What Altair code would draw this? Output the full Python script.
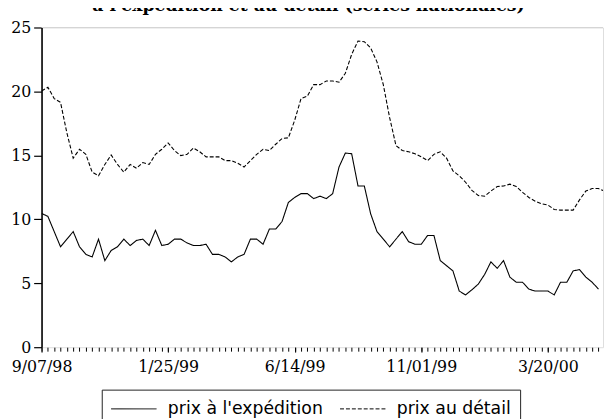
import altair as alt
import pandas as pd

start_date = "1998-09-07"
domain_end = "2000-05-20"

prix_expedition = [
    10.46, 10.23, 9.04, 7.85, 8.45, 9.04, 7.85, 7.26, 7.06, 8.45,
    6.77, 7.56, 7.85, 8.45, 7.95, 8.35, 8.45, 7.95, 9.14, 7.95,
    8.05, 8.45, 8.45, 8.15, 7.95, 7.95, 8.05, 7.26, 7.26, 7.06,
    6.67, 7.06, 7.26, 8.45, 8.45, 8.05, 9.24, 9.24, 9.83, 11.32,
    11.71, 12.01, 12.01, 11.62, 11.81, 11.62, 12.01, 14.09, 15.18, 15.13,
    12.61, 12.61, 10.43, 9.04, 8.45, 7.85, 8.45, 9.04, 8.25, 8.05,
    8.05, 8.74, 8.74, 6.77, 6.37, 5.97, 4.39, 4.09, 4.49, 4.93,
    5.68, 6.67, 6.17, 6.77, 5.48, 5.08, 5.08, 4.54, 4.39, 4.39,
    4.39, 4.09, 5.08, 5.08, 5.97, 6.07, 5.48, 5.08, 4.54,
]

prix_detail = [
    20.03, 20.33, 19.44, 19.14, 16.76, 14.78, 15.48, 15.08, 13.69, 13.40,
    14.29, 15.03, 14.29, 13.69, 14.29, 13.99, 14.44, 14.29, 15.08, 15.48,
    15.97, 15.38, 14.98, 15.08, 15.58, 15.28, 14.88, 14.88, 14.88, 14.59,
    14.59, 14.39, 14.09, 14.59, 15.08, 15.48, 15.38, 15.87, 16.32, 16.37,
    17.75, 19.44, 19.63, 20.53, 20.53, 20.82, 20.82, 20.72, 21.42, 22.90,
    23.94, 23.89, 23.40, 22.31, 20.53, 17.95, 15.77, 15.38, 15.28, 15.13,
    14.88, 14.59, 15.08, 15.28, 14.78, 13.79, 13.40, 12.90, 12.26, 11.86,
    11.81, 12.21, 12.56, 12.61, 12.75, 12.56, 12.11, 11.71, 11.42, 11.22,
    11.12, 10.77, 10.72, 10.72, 10.72, 11.52, 12.21, 12.41, 12.41, 12.20,
]

label_dates = ["1998-09-07", "1999-01-25", "1999-06-14", "1999-11-01", "2000-03-20"]
y_ticks = [0, 5, 10, 15, 20, 25]
series_names = ["prix à l'expédition", "prix au détail"]
title_text = "à l'expédition et au détail (séries nationales)"

weeks_e = pd.date_range(start_date, periods=len(prix_expedition), freq="7D")
weeks_d = pd.date_range(start_date, periods=len(prix_detail), freq="7D")
df = pd.concat([
    pd.DataFrame({"date": weeks_e, "prix": prix_expedition, "serie": series_names[0]}),
    pd.DataFrame({"date": weeks_d, "prix": prix_detail, "serie": series_names[1]}),
], ignore_index=True)

all_weeks = pd.date_range(start_date, domain_end, freq="7D")
df_weeks = pd.DataFrame({"date": all_weeks})


def dt(s):
    t = pd.Timestamp(s)
    return alt.DateTime(year=t.year, month=t.month, date=t.day)


x_scale = alt.Scale(domain=[dt(start_date), dt(domain_end)])
y_scale = alt.Scale(domain=[0, 25], nice=False, zero=False)

SERIF = "DejaVu Serif"

y_axis = alt.Axis(
    values=y_ticks, title=None, grid=False, domain=True, domainColor="black",
    domainWidth=1.6, ticks=True, tickColor="black", tickWidth=1.2, tickSize=8,
    labelFont=SERIF, labelFontSize=16, labelColor="black", labelPadding=3,
    labelFlush=False, labelOverlap=False,
)

x_axis_labels = alt.Axis(
    orient="bottom",
    values=[dt(d) for d in label_dates], format="%-m/%d/%y", title=None,
    grid=False, domain=False, ticks=True, tickColor="black", tickWidth=1,
    tickSize=5, labelFont=SERIF, labelFontSize=16, labelColor="black",
    labelPadding=7, labelFlush=False, labelOverlap=False,
)

x_axis_minor = alt.Axis(
    orient="bottom",
    values=[dt(d) for d in all_weeks], title=None, grid=False, domain=False,
    labels=False, ticks=True, tickColor="black", tickWidth=1, tickSize=4,
)

top_rule = alt.Chart(pd.DataFrame({"y": [25]})).mark_rule(
    color="#d4d4d4", strokeWidth=1
).encode(y=alt.Y("y:Q", scale=y_scale, axis=y_axis))

minor_ticks = alt.Chart(df_weeks).mark_point(opacity=0).encode(
    x=alt.X("date:T", scale=x_scale, axis=x_axis_minor)
)

lines = alt.Chart(df).mark_line(clip=True, strokeWidth=1.1, color="black").encode(
    x=alt.X("date:T", scale=x_scale, axis=x_axis_labels),
    y=alt.Y("prix:Q", scale=y_scale, axis=y_axis),
    strokeDash=alt.StrokeDash(
        "serie:N",
        scale=alt.Scale(domain=series_names, range=[[1, 0], [4, 2]]),
        legend=alt.Legend(
            title=None, orient="none", legendX=61, legendY=367,
            direction="horizontal", strokeColor="#222", padding=9,
            symbolType="stroke", symbolSize=2116, symbolStrokeWidth=1,
            symbolStrokeColor="black", labelFont="DejaVu Sans",
            labelFontSize=17.5, labelColor="black", labelOffset=11,
            columnPadding=16, clipHeight=21,
        ),
    ),
    detail="serie:N",
)

chart = alt.layer(top_rule, minor_ticks, lines).resolve_axis(x="independent").properties(
    width=569,
    height=324,
    autosize=alt.AutoSizeParams(type="none"),
    padding={"left": 34, "top": 17, "right": 1, "bottom": 70},
    title=alt.TitleParams(
        text=title_text, font=SERIF, fontSize=17.5, fontWeight="bold",
        anchor="middle", frame="group", offset=2, baseline="alphabetic",
        dx=-14, dy=11, color="black",
    ),
).configure_view(stroke=None).configure(background="white")

chart.save("out.html", embed_options={"renderer": "svg", "actions": False})
